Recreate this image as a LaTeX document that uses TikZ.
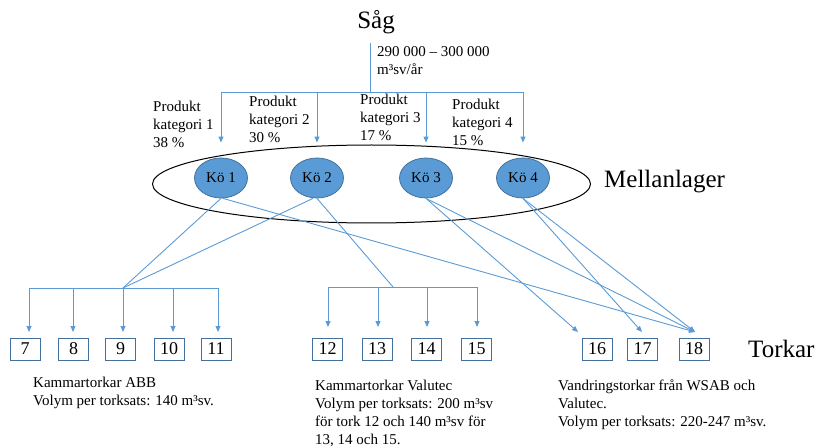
\documentclass[tikz,border=0pt]{standalone}
\usepackage{fontspec}
\setmainfont{Liberation Serif}
\usetikzlibrary{arrows.meta,shapes.geometric,calc}
\definecolor{lineblue}{HTML}{5B9BD5}
\definecolor{fillblue}{HTML}{5B9BD5}
\definecolor{edgeblue}{HTML}{41719C}
\begin{document}
\begin{tikzpicture}[x=1pt,y=-1pt,
  conn/.style={draw=lineblue, line width=0.9pt},
  arr/.style={conn, -{Triangle[length=6pt,width=5pt]}},
  que/.style={ellipse, fill=fillblue, draw=edgeblue, line width=0.8pt,
    minimum width=53pt, minimum height=40pt, inner sep=0pt,
    font=\fontsize{15}{18}\selectfont},
  dryer/.style={rectangle, draw=edgeblue, line width=0.8pt, fill=white,
    minimum width=30pt, minimum height=22pt, inner sep=0pt,
    font=\fontsize{18}{20}\selectfont},
  lbl/.style={anchor=north west, inner sep=0pt, align=left,
    font=\fontsize{15}{18}\selectfont},
  big/.style={inner sep=0pt, font=\fontsize{25}{30}\selectfont}]
\useasboundingbox (0,0) rectangle (818,446);

% saw and its output
\node[big] (sag) at (376,22) {Såg};
\coordinate (s0) at (370,43);
\coordinate (s1) at (370,92);
\node[lbl] (vol) at (377,46) {290 000 – 300 000\\m³sv/år};

% intermediate storage
\node[ellipse, draw=black, line width=1pt, minimum width=438pt,
  minimum height=78pt, inner sep=0pt] (lager) at (371.5,184) {};
\node[big, anchor=west] (mlabel) at (604,182) {Mellanlager};

\node[que] (k1) at (221,178) {Kö 1};
\node[que] (k2) at (317,178) {Kö 2};
\node[que] (k3) at (426,178) {Kö 3};
\node[que] (k4) at (523,178) {Kö 4};

% product categories
\node[lbl] (p1) at (153,100.5) {Produkt\\kategori 1\\38 \%};
\node[lbl] (p2) at (249,96) {Produkt\\kategori 2\\30 \%};
\node[lbl] (p3) at (360,93.5) {Produkt\\kategori 3\\17 \%};
\node[lbl] (p4) at (452,98.5) {Produkt\\kategori 4\\15 \%};

\draw[conn] (s0) -- (s1);
\draw[conn] (s1 -| k1) -- (s1 -| k4);
\foreach \k in {k1,k2,k3,k4}
  \draw[arr] (s1 -| \k) -- ($(\k.north)+(0,-15)$);

% dryers
\foreach \n/\x in {7/25,8/73.5,9/120.5,10/169,11/216,
                   12/327.5,13/377,14/426.5,15/476.5,
                   16/597,17/642.5,18/694}
  \node[dryer] (b\n) at (\x,349) {\n};
\node[big, anchor=west] (tlabel) at (748,349) {Torkar};

% arrow tips above the dryers
\coordinate (t7) at (29,332);
\coordinate (t8) at (73,332);
\coordinate (t9) at (123,332);
\coordinate (t10) at (173,332);
\coordinate (t11) at (218,332);
\coordinate (t12) at (328,327);
\coordinate (t13) at (378,327);
\coordinate (t14) at (427,327);
\coordinate (t15) at (477,327);
\coordinate (t16) at (578,332);
\coordinate (t17) at (642,332);
\coordinate (t18) at (695,332);

% distribution points
\coordinate (abb) at (123,288);
\coordinate (val) at (393,287);

\draw[conn] (k1.south) -- (abb);
\draw[conn] ($(k2.south)+(-4,0)$) -- (abb);
\draw[conn] (k2.south) -- (val);
\draw[arr] ($(k1.south)+(2,0)$) -- (t18);
\draw[arr] (k3.south) -- (t16);
\draw[arr] (k3.south) -- (t18);
\draw[arr] (k4.south) -- (t17);
\draw[arr] (k4.south) -- (t18);

\draw[conn] (abb -| t7) -- (abb -| t11);
\foreach \t in {t7,t8,t9,t10,t11}
  \draw[arr] (abb -| \t) -- (\t);
\draw[conn] (val -| t12) -- (val -| t15);
\foreach \t in {t12,t13,t14,t15}
  \draw[arr] (val -| \t) -- (\t);

% dryer descriptions
\node[lbl] (dabb) at (33,376.5)
  {Kammartorkar ABB\\Volym per torksats: 140 m³sv.};
\node[lbl] (dval) at (315,379.5)
  {Kammartorkar Valutec\\Volym per torksats: 200 m³sv\\för tork 12 och 140 m³sv för\\13, 14 och 15.};
\node[lbl] (dvan) at (558,379.5)
  {Vandringstorkar från WSAB och\\Valutec.\\Volym per torksats: 220-247 m³sv.};
\end{tikzpicture}
\end{document}
